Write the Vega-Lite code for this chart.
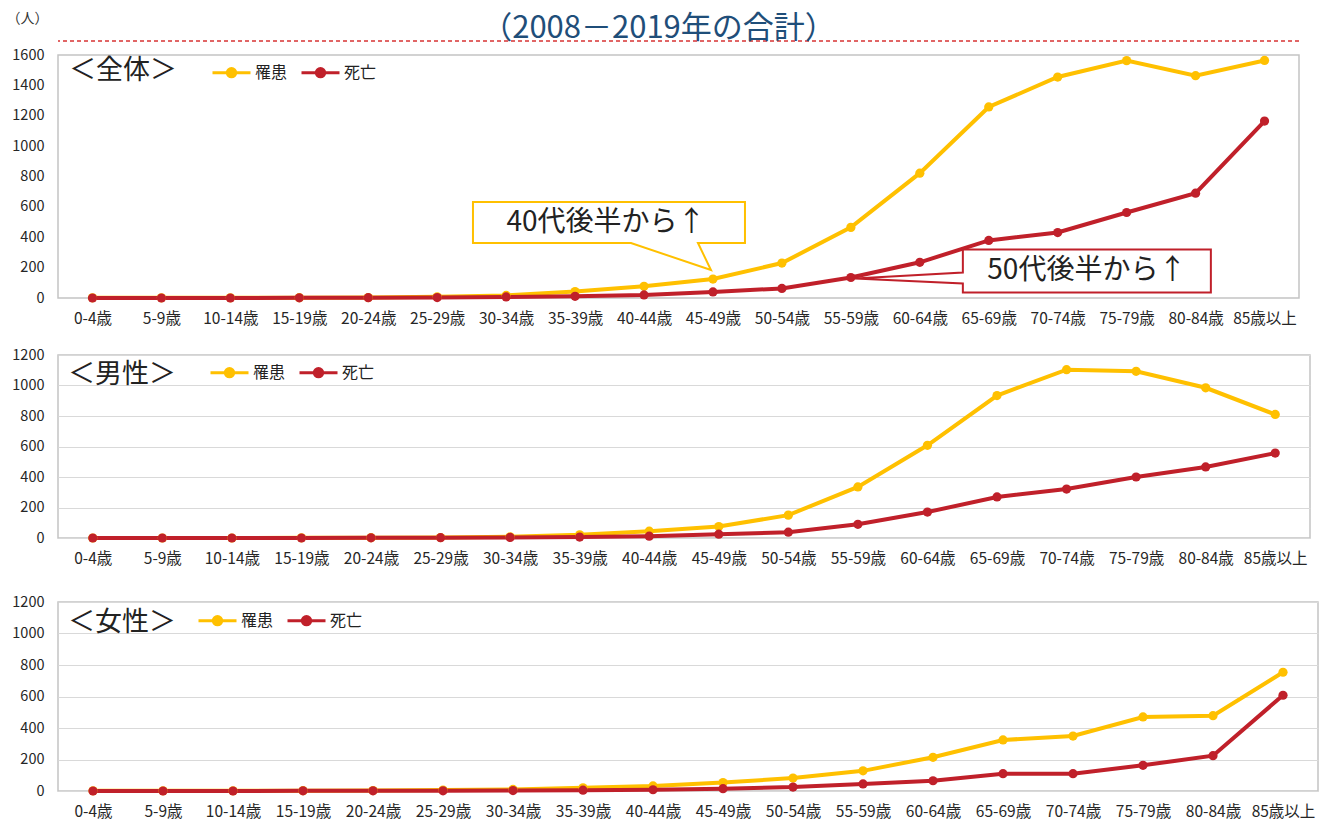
{
  "$schema": "https://vega.github.io/schema/vega-lite/v6.json",
  "background": "white",
  "padding": {"left": 0, "top": 10, "right": 0, "bottom": 0},
  "config": {
    "font": "Noto Sans CJK JP",
    "view": {"stroke": "#c4c4c4", "strokeWidth": 1.5},
    "axis": {"labelFont": "Noto Sans CJK JP", "labelColor": "#262626", "ticks": false, "tickSize": 0, "domain": false, "gridColor": "#d9d9d9", "gridWidth": 1.2, "labelOverlap": false},
    "axisX": {"grid": false, "labelAngle": 0, "labelFontSize": 15.5, "labelPadding": 13},
    "axisY": {"labelFontSize": 14.5, "labelPadding": 14, "format": "d", "tickCount": 20},
    "legend": {"direction": "horizontal", "orient": "none", "titleOrient": "left", "titleAnchor": "middle", "titleBaseline": "line-top", "titleLineHeight": 17, "titleFontSize": 27, "titleFontWeight": "normal", "titleColor": "#222222", "labelFontSize": 16, "labelColor": "#222222", "symbolType": "M-1,0H1M-0.22,0A0.22,0.22,0,1,1,0.22,0A0.22,0.22,0,1,1,-0.22,0", "symbolSize": 1444, "symbolStrokeWidth": 3, "labelOffset": 3, "columnPadding": 7, "padding": 0}
  },
  "datasets": {
    "all": [
      {"age": "0-4歳", "type": "罹患", "value": 1}, {"age": "5-9歳", "type": "罹患", "value": 1}, {"age": "10-14歳", "type": "罹患", "value": 1}, {"age": "15-19歳", "type": "罹患", "value": 2}, {"age": "20-24歳", "type": "罹患", "value": 3}, {"age": "25-29歳", "type": "罹患", "value": 8}, {"age": "30-34歳", "type": "罹患", "value": 17}, {"age": "35-39歳", "type": "罹患", "value": 42}, {"age": "40-44歳", "type": "罹患", "value": 77}, {"age": "45-49歳", "type": "罹患", "value": 125}, {"age": "50-54歳", "type": "罹患", "value": 230}, {"age": "55-59歳", "type": "罹患", "value": 465}, {"age": "60-64歳", "type": "罹患", "value": 822}, {"age": "65-69歳", "type": "罹患", "value": 1258}, {"age": "70-74歳", "type": "罹患", "value": 1455}, {"age": "75-79歳", "type": "罹患", "value": 1563}, {"age": "80-84歳", "type": "罹患", "value": 1464}, {"age": "85歳以上", "type": "罹患", "value": 1564},
      {"age": "0-4歳", "type": "死亡", "value": 0}, {"age": "5-9歳", "type": "死亡", "value": 0}, {"age": "10-14歳", "type": "死亡", "value": 0}, {"age": "15-19歳", "type": "死亡", "value": 1}, {"age": "20-24歳", "type": "死亡", "value": 2}, {"age": "25-29歳", "type": "死亡", "value": 3}, {"age": "30-34歳", "type": "死亡", "value": 7}, {"age": "35-39歳", "type": "死亡", "value": 11}, {"age": "40-44歳", "type": "死亡", "value": 20}, {"age": "45-49歳", "type": "死亡", "value": 40}, {"age": "50-54歳", "type": "死亡", "value": 63}, {"age": "55-59歳", "type": "死亡", "value": 135}, {"age": "60-64歳", "type": "死亡", "value": 235}, {"age": "65-69歳", "type": "死亡", "value": 379}, {"age": "70-74歳", "type": "死亡", "value": 431}, {"age": "75-79歳", "type": "死亡", "value": 563}, {"age": "80-84歳", "type": "死亡", "value": 690}, {"age": "85歳以上", "type": "死亡", "value": 1165}
    ],
    "male": [
      {"age": "0-4歳", "type": "罹患", "value": 0}, {"age": "5-9歳", "type": "罹患", "value": 0}, {"age": "10-14歳", "type": "罹患", "value": 0}, {"age": "15-19歳", "type": "罹患", "value": 1}, {"age": "20-24歳", "type": "罹患", "value": 2}, {"age": "25-29歳", "type": "罹患", "value": 3}, {"age": "30-34歳", "type": "罹患", "value": 8}, {"age": "35-39歳", "type": "罹患", "value": 21}, {"age": "40-44歳", "type": "罹患", "value": 45}, {"age": "45-49歳", "type": "罹患", "value": 75}, {"age": "50-54歳", "type": "罹患", "value": 150}, {"age": "55-59歳", "type": "罹患", "value": 335}, {"age": "60-64歳", "type": "罹患", "value": 608}, {"age": "65-69歳", "type": "罹患", "value": 934}, {"age": "70-74歳", "type": "罹患", "value": 1104}, {"age": "75-79歳", "type": "罹患", "value": 1093}, {"age": "80-84歳", "type": "罹患", "value": 985}, {"age": "85歳以上", "type": "罹患", "value": 810},
      {"age": "0-4歳", "type": "死亡", "value": 0}, {"age": "5-9歳", "type": "死亡", "value": 0}, {"age": "10-14歳", "type": "死亡", "value": 0}, {"age": "15-19歳", "type": "死亡", "value": 0}, {"age": "20-24歳", "type": "死亡", "value": 1}, {"age": "25-29歳", "type": "死亡", "value": 2}, {"age": "30-34歳", "type": "死亡", "value": 4}, {"age": "35-39歳", "type": "死亡", "value": 6}, {"age": "40-44歳", "type": "死亡", "value": 12}, {"age": "45-49歳", "type": "死亡", "value": 25}, {"age": "50-54歳", "type": "死亡", "value": 38}, {"age": "55-59歳", "type": "死亡", "value": 90}, {"age": "60-64歳", "type": "死亡", "value": 170}, {"age": "65-69歳", "type": "死亡", "value": 269}, {"age": "70-74歳", "type": "死亡", "value": 321}, {"age": "75-79歳", "type": "死亡", "value": 400}, {"age": "80-84歳", "type": "死亡", "value": 466}, {"age": "85歳以上", "type": "死亡", "value": 557}
    ],
    "female": [
      {"age": "0-4歳", "type": "罹患", "value": 1}, {"age": "5-9歳", "type": "罹患", "value": 1}, {"age": "10-14歳", "type": "罹患", "value": 1}, {"age": "15-19歳", "type": "罹患", "value": 2}, {"age": "20-24歳", "type": "罹患", "value": 3}, {"age": "25-29歳", "type": "罹患", "value": 6}, {"age": "30-34歳", "type": "罹患", "value": 10}, {"age": "35-39歳", "type": "罹患", "value": 20}, {"age": "40-44歳", "type": "罹患", "value": 32}, {"age": "45-49歳", "type": "罹患", "value": 54}, {"age": "50-54歳", "type": "罹患", "value": 82}, {"age": "55-59歳", "type": "罹患", "value": 128}, {"age": "60-64歳", "type": "罹患", "value": 214}, {"age": "65-69歳", "type": "罹患", "value": 324}, {"age": "70-74歳", "type": "罹患", "value": 349}, {"age": "75-79歳", "type": "罹患", "value": 470}, {"age": "80-84歳", "type": "罹患", "value": 478}, {"age": "85歳以上", "type": "罹患", "value": 754},
      {"age": "0-4歳", "type": "死亡", "value": 0}, {"age": "5-9歳", "type": "死亡", "value": 0}, {"age": "10-14歳", "type": "死亡", "value": 0}, {"age": "15-19歳", "type": "死亡", "value": 1}, {"age": "20-24歳", "type": "死亡", "value": 1}, {"age": "25-29歳", "type": "死亡", "value": 1}, {"age": "30-34歳", "type": "死亡", "value": 3}, {"age": "35-39歳", "type": "死亡", "value": 5}, {"age": "40-44歳", "type": "死亡", "value": 8}, {"age": "45-49歳", "type": "死亡", "value": 15}, {"age": "50-54歳", "type": "死亡", "value": 25}, {"age": "55-59歳", "type": "死亡", "value": 45}, {"age": "60-64歳", "type": "死亡", "value": 65}, {"age": "65-69歳", "type": "死亡", "value": 110}, {"age": "70-74歳", "type": "死亡", "value": 110}, {"age": "75-79歳", "type": "死亡", "value": 163}, {"age": "80-84歳", "type": "死亡", "value": 224}, {"age": "85歳以上", "type": "死亡", "value": 608}
    ],
    "note40": [{"age": "45-49歳", "value": 125, "label": "40代後半から↑"}],
    "note50": [{"age": "55-59歳", "value": 135, "label": "50代後半から↑"}]
  },
  "columns": 1,
  "align": "none",
  "spacing": 15,
  "resolve": {"scale": {"x": "independent", "y": "independent"}, "legend": {"color": "independent"}},
  "concat": [
    {
      "width": 1241,
      "height": 243,
      "title": {"text": "（2008－2019年の合計）", "fontSize": 31, "color": "#1F4E79", "fontWeight": "normal", "anchor": "middle", "frame": "group", "dx": -20, "offset": -34},
      "layer": [
        {
          "data": {"name": "all"},
          "mark": {"type": "rule", "stroke": "#E06666", "strokeDash": [4, 3], "strokeWidth": 1},
          "encoding": {"y": {"datum": 1690, "type": "quantitative"}}
        },
        {
          "data": {"name": "all"},
          "mark": {"type": "line", "strokeWidth": 4},
          "encoding": {
            "x": {"field": "age", "type": "ordinal", "scale": {"domain": ["0-4歳","5-9歳","10-14歳","15-19歳","20-24歳","25-29歳","30-34歳","35-39歳","40-44歳","45-49歳","50-54歳","55-59歳","60-64歳","65-69歳","70-74歳","75-79歳","80-84歳","85歳以上"], "padding": 0.5}, "axis": {"title": null, "minExtent": 32, "maxExtent": 32}},
            "y": {"field": "value", "type": "quantitative", "scale": {"domain": [0, 1600], "nice": false}, "axis": {"values": [0, 200, 400, 600, 800, 1000, 1200, 1400, 1600], "tickCount": 20, "title": "（人）", "titleAngle": 0, "titleX": -52, "titleY": -37, "titleAlign": "left", "titleBaseline": "middle", "titleFontSize": 14, "titleFontWeight": "normal", "titleColor": "#333333", "minExtent": 57, "maxExtent": 57}},
            "color": {"field": "type", "type": "nominal", "scale": {"domain": ["罹患", "死亡"], "range": ["#FFC000", "#C0202A"]}, "legend": {"title": "＜全体＞", "legendX": 11, "legendY": -3, "titlePadding": 34, "titleLineHeight": 8}}
          }
        },
        {
          "data": {"name": "all"},
          "mark": {"type": "point", "filled": true, "size": 85, "opacity": 1},
          "encoding": {
            "x": {"field": "age", "type": "ordinal"},
            "y": {"field": "value", "type": "quantitative", "axis": {"values": [0, 200, 400, 600, 800, 1000, 1200, 1400, 1600], "tickCount": 20}},
            "color": {"field": "type", "type": "nominal"}
          }
        },
        {
          "data": {"name": "note40"},
          "mark": {"type": "point", "shape": "M-240,-77H32V-36H-15L-2,-9L-82,-36H-240Z", "size": 4, "filled": true, "fill": "white", "stroke": "#FFC000", "strokeWidth": 2, "opacity": 1},
          "encoding": {"x": {"field": "age", "type": "ordinal"}, "y": {"field": "value", "type": "quantitative"}}
        },
        {
          "data": {"name": "note40"},
          "mark": {"type": "text", "dx": -107, "dy": -56, "fontSize": 28, "color": "#222222", "align": "center", "baseline": "middle"},
          "encoding": {"x": {"field": "age", "type": "ordinal"}, "y": {"field": "value", "type": "quantitative"}, "text": {"field": "label"}}
        },
        {
          "data": {"name": "note50"},
          "mark": {"type": "point", "shape": "M112,-28H360V15H112V6L4,1L112,-5Z", "size": 4, "filled": true, "fill": "white", "stroke": "#C0202A", "strokeWidth": 2, "opacity": 1},
          "encoding": {"x": {"field": "age", "type": "ordinal"}, "y": {"field": "value", "type": "quantitative"}}
        },
        {
          "data": {"name": "note50"},
          "mark": {"type": "text", "dx": 236, "dy": -6, "fontSize": 28, "color": "#222222", "align": "center", "baseline": "middle"},
          "encoding": {"x": {"field": "age", "type": "ordinal"}, "y": {"field": "value", "type": "quantitative"}, "text": {"field": "label"}}
        }
      ]
    },
    {
      "width": 1252,
      "height": 183,
      "data": {"name": "male"},
      "layer": [
        {
          "mark": {"type": "line", "strokeWidth": 4},
          "encoding": {
            "x": {"field": "age", "type": "ordinal", "scale": {"domain": ["0-4歳","5-9歳","10-14歳","15-19歳","20-24歳","25-29歳","30-34歳","35-39歳","40-44歳","45-49歳","50-54歳","55-59歳","60-64歳","65-69歳","70-74歳","75-79歳","80-84歳","85歳以上"], "padding": 0.5}, "axis": {"title": null, "minExtent": 39, "maxExtent": 39}},
            "y": {"field": "value", "type": "quantitative", "scale": {"domain": [0, 1200], "nice": false}, "axis": {"values": [0, 200, 400, 600, 800, 1000, 1200], "tickCount": 20, "title": null, "minExtent": 57, "maxExtent": 57}},
            "color": {"field": "type", "type": "nominal", "legend": {"title": "＜男性＞", "legendX": 10, "legendY": -3, "titlePadding": 33}}
          }
        },
        {
          "mark": {"type": "point", "filled": true, "size": 85, "opacity": 1},
          "encoding": {
            "x": {"field": "age", "type": "ordinal"},
            "y": {"field": "value", "type": "quantitative", "axis": {"values": [0, 200, 400, 600, 800, 1000, 1200], "tickCount": 20}},
            "color": {"field": "type", "type": "nominal"}
          }
        }
      ]
    },
    {
      "width": 1260,
      "height": 189,
      "data": {"name": "female"},
      "layer": [
        {
          "mark": {"type": "line", "strokeWidth": 4},
          "encoding": {
            "x": {"field": "age", "type": "ordinal", "scale": {"domain": ["0-4歳","5-9歳","10-14歳","15-19歳","20-24歳","25-29歳","30-34歳","35-39歳","40-44歳","45-49歳","50-54歳","55-59歳","60-64歳","65-69歳","70-74歳","75-79歳","80-84歳","85歳以上"], "padding": 0.5}, "axis": {"title": null, "minExtent": 30, "maxExtent": 30}},
            "y": {"field": "value", "type": "quantitative", "scale": {"domain": [0, 1200], "nice": false}, "axis": {"values": [0, 200, 400, 600, 800, 1000, 1200], "tickCount": 20, "title": null, "minExtent": 57, "maxExtent": 57}},
            "color": {"field": "type", "type": "nominal", "legend": {"title": "＜女性＞", "legendX": 10, "legendY": -2, "titlePadding": 21}}
          }
        },
        {
          "mark": {"type": "point", "filled": true, "size": 85, "opacity": 1},
          "encoding": {
            "x": {"field": "age", "type": "ordinal"},
            "y": {"field": "value", "type": "quantitative", "axis": {"values": [0, 200, 400, 600, 800, 1000, 1200], "tickCount": 20}},
            "color": {"field": "type", "type": "nominal"}
          }
        }
      ]
    }
  ]
}
